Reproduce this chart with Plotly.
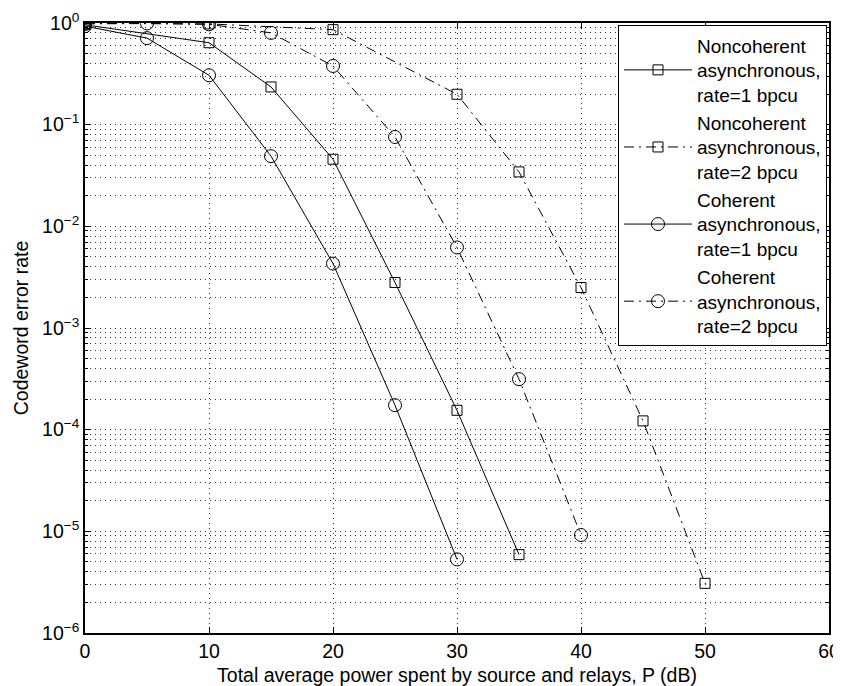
import plotly.graph_objects as go

# Data
x_nc1 = [0, 10, 15, 20, 25, 30, 35]
y_nc1 = [0.96, 0.64, 0.235, 0.0457, 0.0028, 1.55e-4, 5.9e-6]

x_nc2 = [0, 10, 20, 30, 35, 40, 45, 50]
y_nc2 = [0.99, 0.98, 0.86, 0.199, 0.0343, 0.0025, 1.22e-4, 3.08e-6]

x_c1 = [0, 5, 10, 15, 20, 25, 30]
y_c1 = [0.93, 0.71, 0.306, 0.049, 0.0043, 1.74e-4, 5.3e-6]

x_c2 = [0, 5, 10, 15, 20, 25, 30, 35, 40]
y_c2 = [0.98, 0.99, 0.97, 0.80, 0.378, 0.0757, 0.0062, 3.14e-4, 9.2e-6]

names = [
    "Noncoherent<br>asynchronous,<br>rate=1 bpcu",
    "Noncoherent<br>asynchronous,<br>rate=2 bpcu",
    "Coherent<br>asynchronous,<br>rate=1 bpcu",
    "Coherent<br>asynchronous,<br>rate=2 bpcu",
]

y_tickvals = [1, 1e-1, 1e-2, 1e-3, 1e-4, 1e-5, 1e-6]
y_ticktext = ["10<sup>0</sup>", "10<sup>\u22121</sup>", "10<sup>\u22122</sup>", "10<sup>\u22123</sup>",
              "10<sup>\u22124</sup>", "10<sup>\u22125</sup>", "10<sup>\u22126</sup>"]
x_tickvals = [0, 10, 20, 30, 40, 50, 60]

FONT = "Liberation Sans, Arial, sans-serif"
DASHDOT = "10px,5px,2px,5px"
FS = 19.5

fig = go.Figure()
series = [
    (x_nc1, y_nc1, names[0], "solid", "square-open", 10),
    (x_nc2, y_nc2, names[1], DASHDOT, "square-open", 10),
    (x_c1, y_c1, names[2], "solid", "circle-open", 13),
    (x_c2, y_c2, names[3], DASHDOT, "circle-open", 13),
]
for xs, ys, nm, dash, sym, sz in series:
    fig.add_trace(go.Scatter(
        x=xs, y=ys, name=nm, mode="lines+markers",
        line=dict(color="black", width=1, dash=dash),
        marker=dict(symbol=sym, size=sz, color="black", line=dict(width=1, color="black")),
    ))

grid_dash = "1px,4px"
# page body has an 8px margin: the figure is offset by 8px inside the 841x686 window
fig.update_layout(
    width=833, height=678,
    margin=dict(l=77, r=12, t=15, b=53),
    paper_bgcolor="white", plot_bgcolor="white",
    font=dict(family=FONT, size=FS, color="black"),
    showlegend=True,
    legend=dict(
        x=0.9973, y=0.9962, xanchor="right", yanchor="top",
        bordercolor="black", borderwidth=1, bgcolor="white",
        font=dict(size=19), itemwidth=68, tracegroupgap=0,
    ),
    xaxis=dict(
        range=[0, 60], tickvals=x_tickvals, automargin=False,
        ticklabeloverflow="allow",
        showline=True, linecolor="black", linewidth=1.5, mirror="ticks",
        ticks="inside", ticklen=6, tickcolor="black",
        showgrid=True, gridcolor="#333", gridwidth=1, griddash=grid_dash,
        zeroline=False,
        title=dict(text="Total average power spent by source and relays, P (dB)", font=dict(size=FS), standoff=12),
        tickfont=dict(size=FS),
    ),
    yaxis=dict(
        type="log", range=[-6, 0], automargin=False,
        ticklabeloverflow="allow",
        tickvals=y_tickvals, ticktext=y_ticktext,
        showline=True, linecolor="black", linewidth=1.5, mirror="ticks",
        ticks="inside", ticklen=6, tickcolor="black",
        showgrid=True, gridcolor="#333", gridwidth=1, griddash=grid_dash,
        zeroline=False,
        minor=dict(dtick="D1", ticks="inside", ticklen=3, tickcolor="black",
                   showgrid=True, gridcolor="#333", gridwidth=1, griddash=grid_dash),
        title=dict(text="Codeword error rate", font=dict(size=FS), standoff=8),
        tickfont=dict(size=FS),
    ),
)

fig.write_html("out.html")
